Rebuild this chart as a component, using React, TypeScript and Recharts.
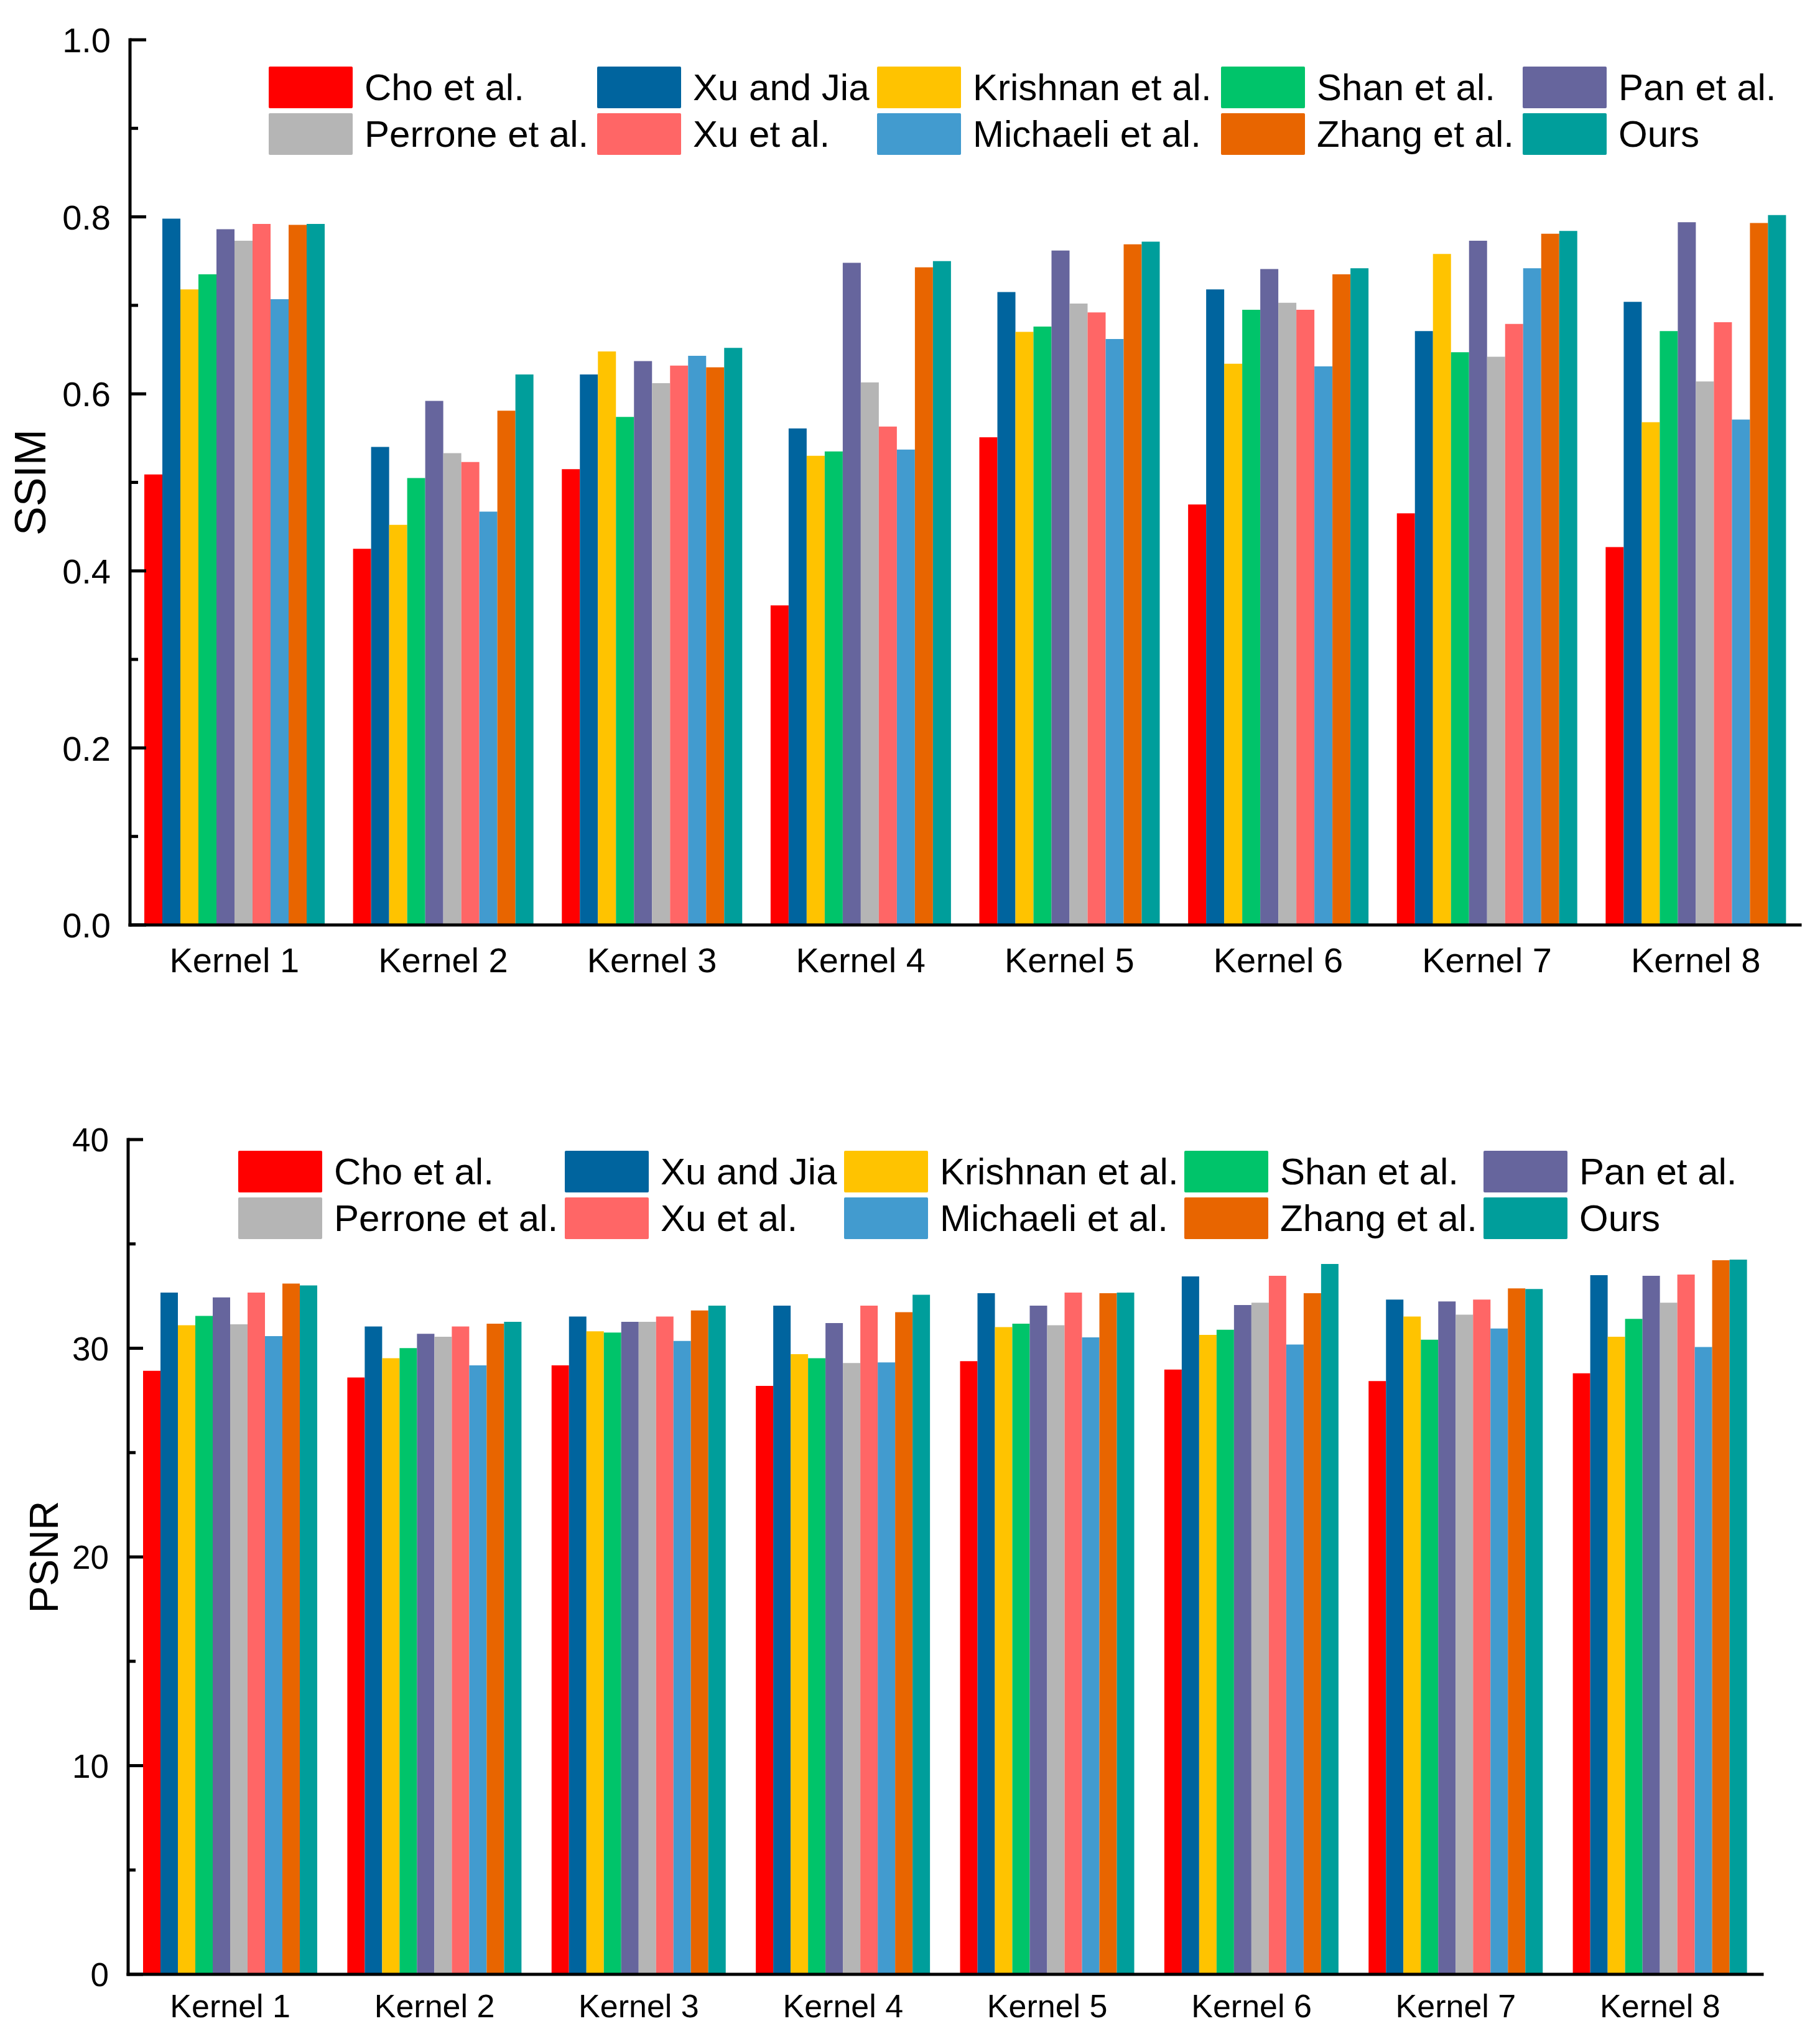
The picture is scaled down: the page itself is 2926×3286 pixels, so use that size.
import React from 'react';
import { BarChart, Bar, XAxis, YAxis, Legend } from 'recharts';

const kernels = ['Kernel 1', 'Kernel 2', 'Kernel 3', 'Kernel 4', 'Kernel 5', 'Kernel 6', 'Kernel 7', 'Kernel 8'];

const methods = [
  'Cho et al.', 'Xu and Jia', 'Krishnan et al.', 'Shan et al.', 'Pan et al.',
  'Perrone et al.', 'Xu et al.', 'Michaeli et al.', 'Zhang et al.', 'Ours',
];

const methodColors = [
  '#FF0000', '#00649E', '#FFC300', '#00C46A', '#66659D',
  '#B5B5B5', '#FF6666', '#429BCF', '#E86500', '#009E9B',
];

// SSIM per method, one value per kernel
const ssimCho = [0.509, 0.425, 0.515, 0.361, 0.551, 0.475, 0.465, 0.427];
const ssimXuJia = [0.798, 0.540, 0.622, 0.561, 0.715, 0.718, 0.671, 0.704];
const ssimKrishnan = [0.718, 0.452, 0.648, 0.530, 0.670, 0.634, 0.758, 0.568];
const ssimShan = [0.735, 0.505, 0.574, 0.535, 0.676, 0.695, 0.647, 0.671];
const ssimPan = [0.786, 0.592, 0.637, 0.748, 0.762, 0.741, 0.773, 0.794];
const ssimPerrone = [0.773, 0.533, 0.612, 0.613, 0.702, 0.703, 0.642, 0.614];
const ssimXu = [0.792, 0.523, 0.632, 0.563, 0.692, 0.695, 0.679, 0.681];
const ssimMichaeli = [0.707, 0.467, 0.643, 0.537, 0.662, 0.631, 0.742, 0.571];
const ssimZhang = [0.791, 0.581, 0.630, 0.743, 0.769, 0.735, 0.781, 0.793];
const ssimOurs = [0.792, 0.622, 0.652, 0.750, 0.772, 0.742, 0.784, 0.802];

// PSNR per method, one value per kernel
const psnrCho = [28.92, 28.60, 29.18, 28.20, 29.38, 28.98, 28.43, 28.80];
const psnrXuJia = [32.67, 31.04, 31.52, 32.04, 32.64, 33.44, 32.33, 33.50];
const psnrKrishnan = [31.10, 29.52, 30.81, 29.72, 31.01, 30.64, 31.52, 30.55];
const psnrShan = [31.55, 30.01, 30.75, 29.52, 31.18, 30.89, 30.41, 31.41];
const psnrPan = [32.44, 30.69, 31.27, 31.21, 32.04, 32.07, 32.24, 33.47];
const psnrPerrone = [31.15, 30.55, 31.27, 29.29, 31.10, 32.18, 31.61, 32.18];
const psnrXu = [32.67, 31.04, 31.52, 32.04, 32.67, 33.47, 32.33, 33.53];
const psnrMichaeli = [30.58, 29.18, 30.35, 29.32, 30.52, 30.18, 30.95, 30.06];
const psnrZhang = [33.10, 31.18, 31.81, 31.73, 32.64, 32.64, 32.87, 34.22];
const psnrOurs = [33.01, 31.27, 32.04, 32.56, 32.67, 34.04, 32.84, 34.25];

const ssimTicks = [0, 0.1, 0.2, 0.3, 0.4, 0.5, 0.6, 0.7, 0.8, 0.9, 1.0];
const psnrTicks = [0, 5, 10, 15, 20, 25, 30, 35, 40];

const ssimSeries = [ssimCho, ssimXuJia, ssimKrishnan, ssimShan, ssimPan, ssimPerrone, ssimXu, ssimMichaeli, ssimZhang, ssimOurs];
const psnrSeries = [psnrCho, psnrXuJia, psnrKrishnan, psnrShan, psnrPan, psnrPerrone, psnrXu, psnrMichaeli, psnrZhang, psnrOurs];

const FONT = '"Liberation Sans", Arial, sans-serif';

function buildRows(series: number[][]) {
  return kernels.map((kernel, k) => {
    const row: Record<string, string | number> = { kernel };
    series.forEach((vals, i) => {
      row['m' + i] = vals[k];
    });
    return row;
  });
}

const ssimRows = buildRows(ssimSeries);
const psnrRows = buildRows(psnrSeries);

// y ticks: long inward tick + label on majors, short inward tick on minors
function makeYTick(axisX: number, fontSize: number, majorLen: number, minorLen: number, isMajor: (v: number) => boolean, fmt: (v: number) => string) {
  return (props: any) => {
    const { y, payload } = props;
    const v = payload.value;
    const major = isMajor(v);
    return (
      <g>
        <line x1={axisX} x2={axisX + (major ? majorLen : minorLen)} y1={y} y2={y} stroke="#000" strokeWidth={5} />
        {major && (
          <text x={axisX - 31} y={y} dy="0.36em" textAnchor="end" fontSize={fontSize} fontFamily={FONT} fill="#000">
            {fmt(v)}
          </text>
        )}
      </g>
    );
  };
}

const axisTitle = (text: string, cx: number, size: number, fallbackCy: number) => (props: any) => {
  const vb = props && props.viewBox;
  const cy = vb && typeof vb.y === 'number' ? vb.y + vb.height / 2 : fallbackCy;
  return (
    <text x={cx} y={cy} dy="0.36em" transform={`rotate(-90 ${cx} ${cy})`} textAnchor="middle" fontSize={size} fontFamily={FONT} fill="#000">
      {text}
    </text>
  );
};

function LegendGrid({ colWidths }: { colWidths: number[] }) {
  return (
    <div
      style={{
        display: 'grid',
        gridTemplateColumns: colWidths.map((w) => w + 'px').join(' '),
        rowGap: 8,
        fontFamily: FONT,
      }}
    >
      {methods.map((m, i) => (
        <div key={m} style={{ display: 'flex', alignItems: 'center', height: 67 }}>
          <div style={{ width: 135, height: 67, background: methodColors[i], borderRadius: 2, flex: 'none' }} />
          <span style={{ marginLeft: 19, fontSize: 60, lineHeight: 1, whiteSpace: 'nowrap', color: '#000' }}>{m}</span>
        </div>
      ))}
    </div>
  );
}

const axisLineStyle = { stroke: '#000', strokeWidth: 5, strokeLinecap: 'square' as const };

export default function App() {
  return (
    <div style={{ position: 'absolute', left: 0, top: 0, width: 2926, height: 3286, background: '#fff', overflow: 'hidden' }}>
      <div style={{ position: 'absolute', left: 0, top: 0 }}>
        <BarChart
          width={2926}
          height={1650}
          data={ssimRows}
          margin={{ top: 64, right: 32, left: 0, bottom: 0 }}
          barGap={0}
          barSize={29}
        >
          <XAxis
            dataKey="kernel"
            height={163}
            interval={0}
            tickLine={false}
            tickSize={0}
            tickMargin={36}
            axisLine={axisLineStyle}
            tick={{ fontSize: 56, fill: '#000', fontFamily: FONT }}
          />
          <YAxis
            type="number"
            width={209}
            domain={[0, 1]}
            ticks={ssimTicks}
            interval={0}
            tickLine={false}
            axisLine={axisLineStyle}
            tick={makeYTick(209, 56, 26, 13, (v) => Math.round(v * 10) % 2 === 0, (v) => v.toFixed(1))}
            label={axisTitle('SSIM', 48, 70, 775)}
          />
          <Legend
            layout="vertical"
            align="center"
            verticalAlign="middle"
            wrapperStyle={{ top: 107, left: 432, width: 2480, height: 150 }}
            content={() => <LegendGrid colWidths={[528, 450, 553, 485, 420]} />}
          />
          {methods.map((m, i) => (
            <Bar key={m} dataKey={'m' + i} name={m} fill={methodColors[i]} isAnimationActive={false} />
          ))}
        </BarChart>
      </div>

      <div style={{ position: 'absolute', left: 0, top: 1750 }}>
        <BarChart
          width={2926}
          height={1536}
          data={psnrRows}
          margin={{ top: 82, right: 93, left: 0, bottom: 0 }}
          barGap={0}
          barSize={28}
        >
          <XAxis
            dataKey="kernel"
            height={112}
            interval={0}
            tickLine={false}
            tickSize={0}
            tickMargin={32}
            axisLine={axisLineStyle}
            tick={{ fontSize: 52, fill: '#000', fontFamily: FONT }}
          />
          <YAxis
            type="number"
            width={206}
            domain={[0, 40]}
            ticks={psnrTicks}
            interval={0}
            tickLine={false}
            axisLine={axisLineStyle}
            tick={makeYTick(206, 53, 24, 12, (v) => v % 10 === 0, (v) => String(v))}
            label={axisTitle('PSNR', 70, 65, 753)}
          />
          <Legend
            layout="vertical"
            align="center"
            verticalAlign="middle"
            wrapperStyle={{ top: 100, left: 383, width: 2480, height: 150 }}
            content={() => <LegendGrid colWidths={[525, 449, 547, 481, 420]} />}
          />
          {methods.map((m, i) => (
            <Bar key={m} dataKey={'m' + i} name={m} fill={methodColors[i]} isAnimationActive={false} />
          ))}
        </BarChart>
      </div>
    </div>
  );
}
